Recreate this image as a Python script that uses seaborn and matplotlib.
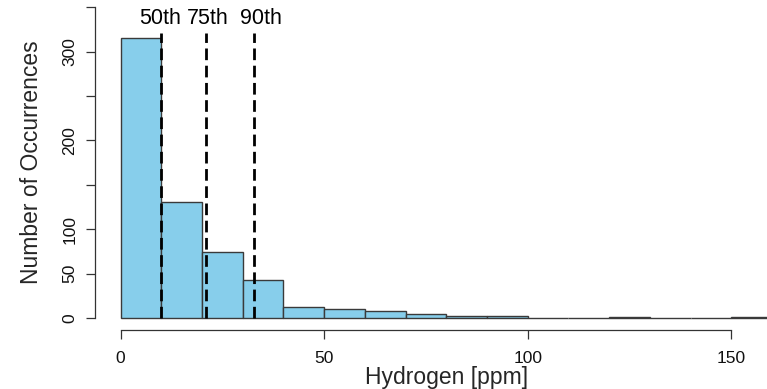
import numpy as np
import matplotlib
matplotlib.use("Agg")
import matplotlib.pyplot as plt
import seaborn as sns

# Histogram of hydrogen concentrations, 10 ppm bins
bin_edges = [0, 10, 20, 30, 40, 50, 60, 70, 80, 90, 100, 110, 120, 130, 140, 150, 160]
counts = [316, 131, 74, 43, 12, 10, 8, 5, 2, 2, 0, 0, 1, 0, 0, 1]

# Percentile markers
pct_labels = ["50th", "75th", "90th"]
pct_values = [9.9, 20.9, 32.8]
pct_label_x = [9.8, 21.5, 34.4]

x_ticks = [0, 50, 100, 150]
y_ticks = [0, 50, 100, 150, 200, 250, 300, 350]
y_tick_labels = ["0", "50", "100", "", "200", "", "300", ""]

sns.set_style("white")
plt.rcParams["font.family"] = ["Liberation Sans", "DejaVu Sans"]

W, H = 767, 389
fig = plt.figure(figsize=(W / 100, H / 100), dpi=100)

# plot region in pixels (R-style 4% padding around the data range)
left_px, right_px = 94.6, 798.0
top_px, bottom_px = -5.1, 330.4
ax = fig.add_axes([left_px / W, (H - bottom_px) / H,
                   (right_px - left_px) / W, (bottom_px - top_px) / H])

centers = [(a + b) / 2 for a, b in zip(bin_edges[:-1], bin_edges[1:])]
sns.histplot(x=centers, weights=counts, bins=bin_edges, ax=ax,
             color="#87CEEB", alpha=1.0, edgecolor="#3a3a3a", linewidth=1.0)

ax.vlines(pct_values, 0, 321, colors="black", linestyles=(0, (4.2, 2.0)),
          linewidth=2.0)
for lbl, xv in zip(pct_labels, pct_label_x):
    ax.text(xv, 337, lbl, ha="center", va="center", fontsize=15.5, color="black")

ax.set_xlim(-6.4, 166.4)
ax.set_ylim(-14, 364)

for s in ["top", "right"]:
    ax.spines[s].set_visible(False)
ax.spines["left"].set_bounds(0, 350)
ax.spines["bottom"].set_bounds(0, 150)
for s in ["left", "bottom"]:
    ax.spines[s].set_color("#333333")
    ax.spines[s].set_linewidth(0.9)

ax.set_xticks(x_ticks)
ax.set_xticklabels([str(t) for t in x_ticks])
ax.set_yticks(y_ticks)
ax.set_yticklabels(y_tick_labels, rotation=90, va="center")
ax.tick_params(axis="both", direction="out", length=6.5, width=0.9,
               color="#333333", labelsize=12.5, labelcolor="#111111",
               left=True, bottom=True)
ax.tick_params(axis="x", pad=8)
ax.tick_params(axis="y", pad=6)

ax.set_xlabel("Hydrogen [ppm]", fontsize=16.5, labelpad=0)
ax.set_ylabel("Number of Occurrences", fontsize=16.5, labelpad=14)

fig.savefig("out.png", dpi=100)
